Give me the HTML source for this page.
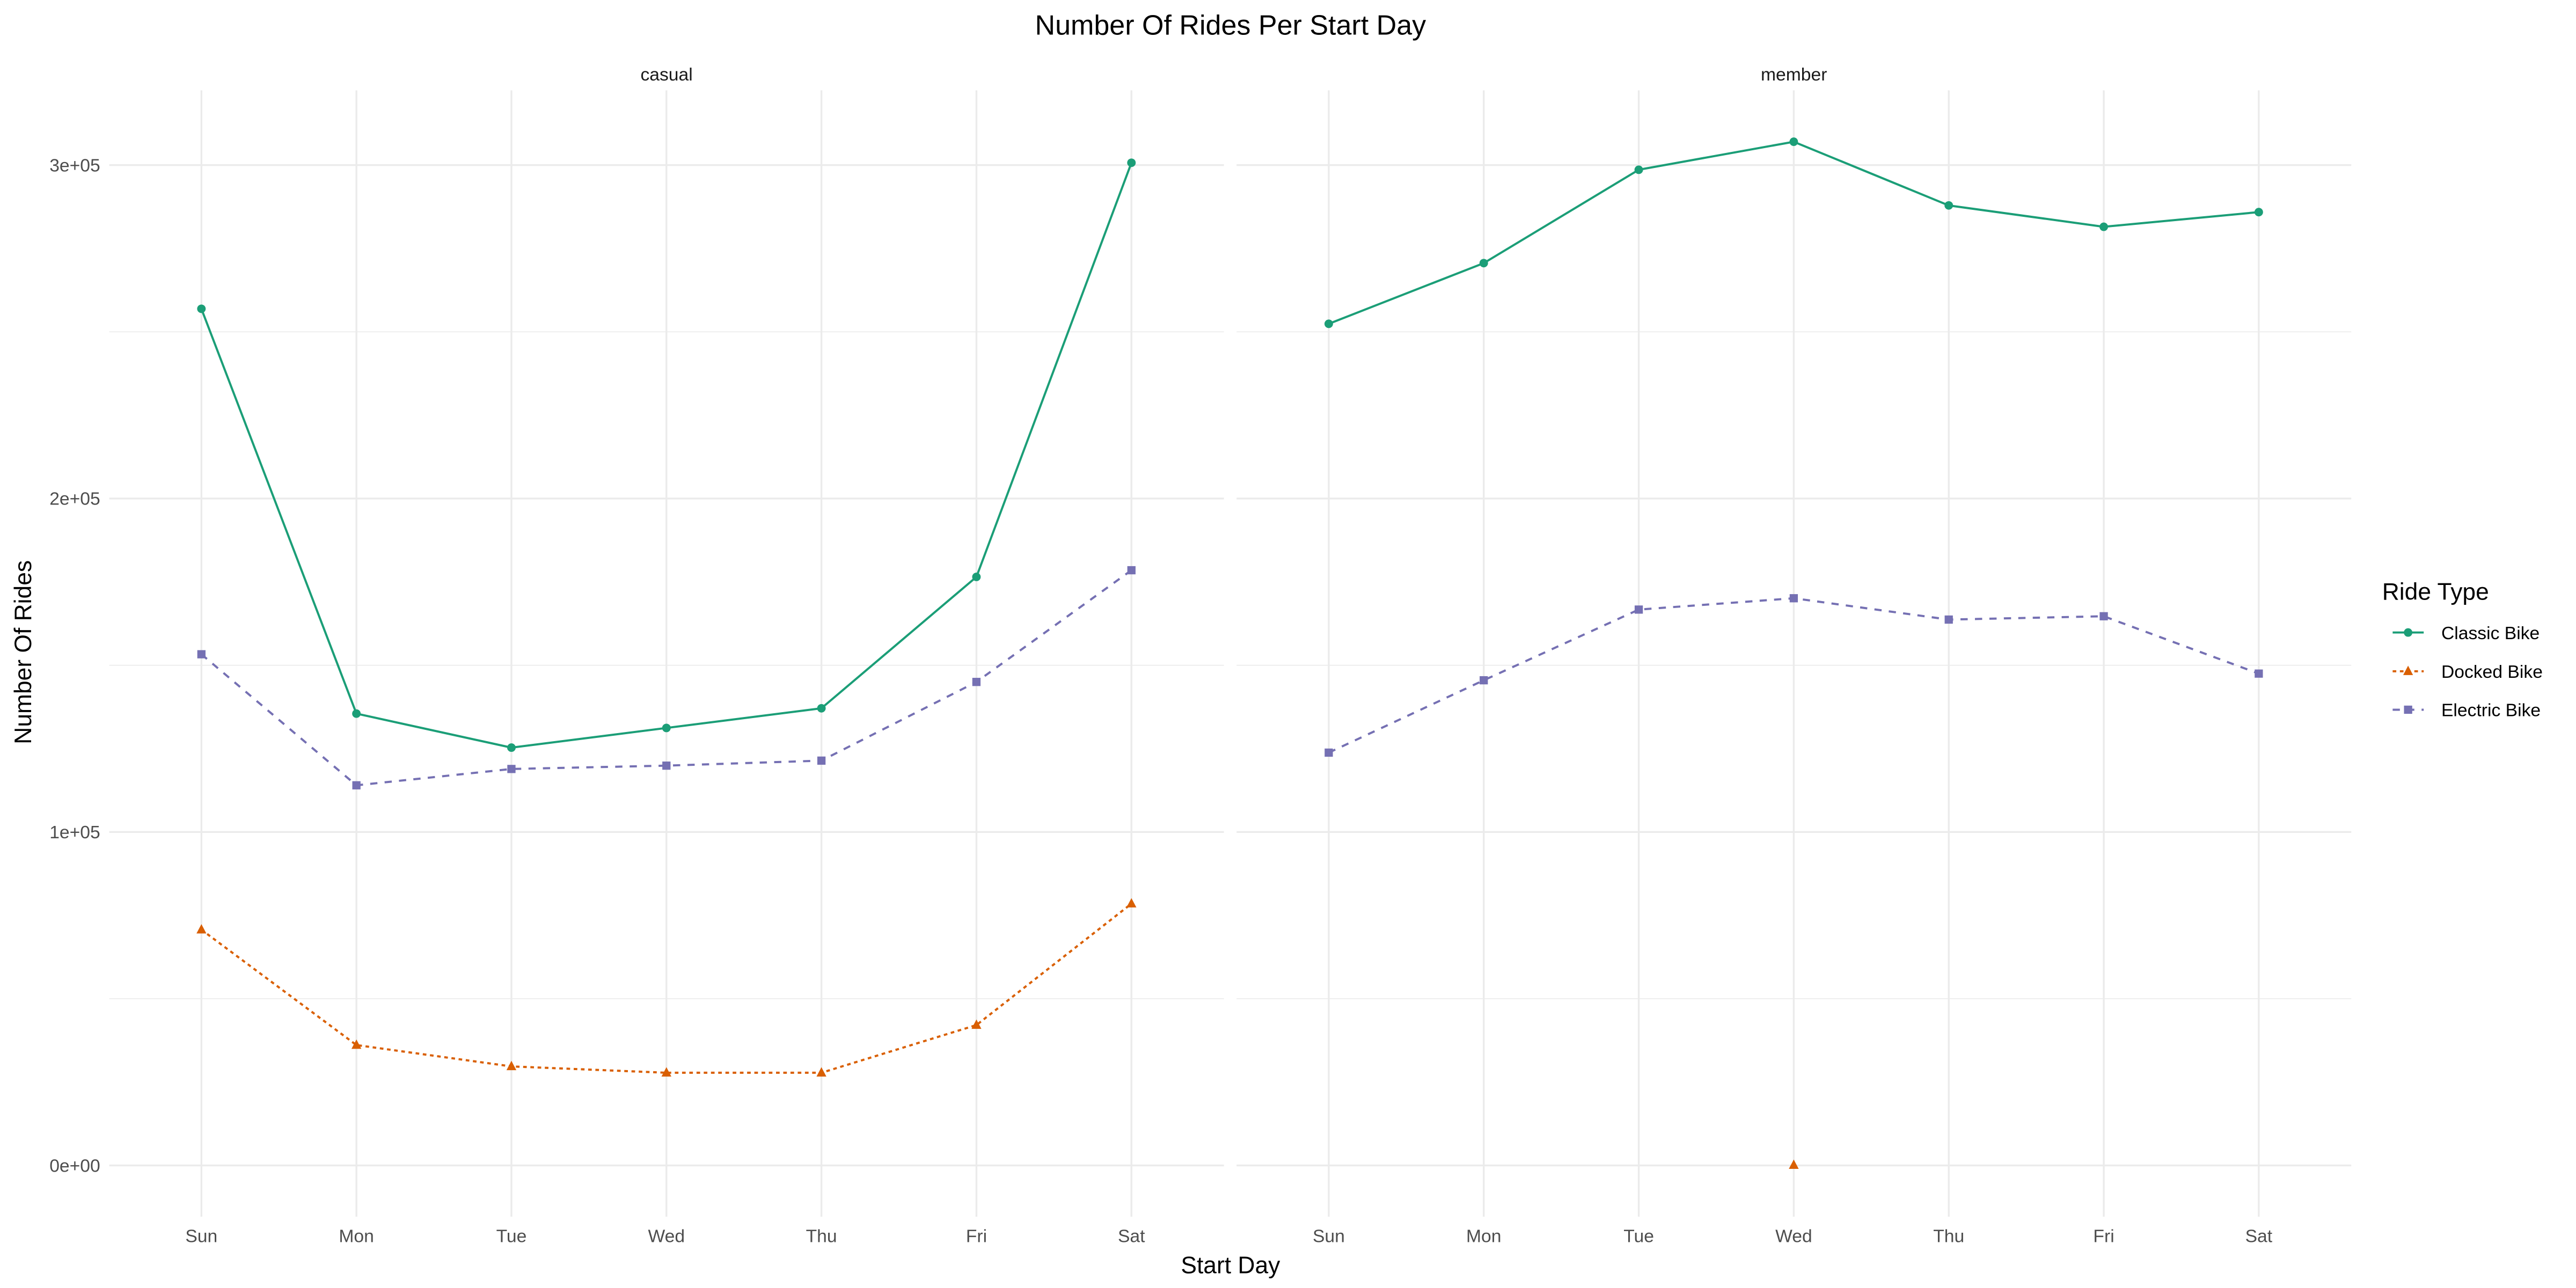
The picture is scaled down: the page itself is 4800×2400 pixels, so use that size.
<!DOCTYPE html>
<html><head><meta charset="utf-8"><style>
html,body{margin:0;padding:0;background:#fff;}
svg{display:block;font-family:"Liberation Sans",Arial,sans-serif;}
</style></head><body>
<svg id="chart" width="4800" height="2400" viewBox="0 0 1568 784" xmlns="http://www.w3.org/2000/svg">
<rect width="1568" height="784" fill="#fff"/>
<text x="749" y="21" font-size="17" text-anchor="middle" fill="#000">Number Of Rides Per Start Day</text>
<text x="749" y="775" font-size="14.5" text-anchor="middle" fill="#000">Start Day</text>
<text transform="translate(19,397) rotate(-90)" font-size="14.5" text-anchor="middle" fill="#000">Number Of Rides</text>
<g id="panels"></g>
<g id="legend">
<text x="1450" y="365" font-size="14.5" fill="#000">Ride Type</text>
</g>
</svg>
<script>
const days = ["Sun","Mon","Tue","Wed","Thu","Fri","Sat"];
const panelNames = ["casual","member"];
const yTicks = [0,100000,200000,300000];
const yTickLabels = ["0e+00","1e+05","2e+05","3e+05"];
const casualClassic = [256900,135500,125300,131200,137100,176500,300700];
const casualElectric = [153300,114000,118900,119900,121400,145000,178500];
const casualDocked = [70700,36100,29700,27800,27800,42100,78500];
const memberClassic = [252400,270600,298600,307000,287900,281500,285900];
const memberElectric = [123800,145500,166700,170100,163700,164700,147500];
const memberDocked = [null,null,null,100,null,null,null];

const series = [
 {name:"Classic Bike",color:"#1b9e77",dash:"",shape:"circle"},
 {name:"Docked Bike",color:"#d95f02",dash:"2.2,2.2",shape:"triangle"},
 {name:"Electric Bike",color:"#7570b3",dash:"4.4,4.4",shape:"square"}
];
const panelData = [[casualClassic,casualDocked,casualElectric],[memberClassic,memberDocked,memberElectric]];

const NS="http://www.w3.org/2000/svg";
const panelLeft=[66.5,752.7], panelW=678.5, panelTop=55, panelBottom=740.6;
function yScale(v){return 709.4 - v/100000*202.97;}
function xScale(p,i){return panelLeft[p]+56.1+i*94.35;}
function mk(tag,attrs,parent){const e=document.createElementNS(NS,tag);for(const k in attrs)e.setAttribute(k,attrs[k]);parent.appendChild(e);return e;}
function marker(shape,x,y,color,parent){
 let e;
 if(shape==="circle") e=mk("circle",{cx:x,cy:y,r:2.6,fill:color},parent);
 else if(shape==="square") e=mk("rect",{x:x-2.5,y:y-2.5,width:5,height:5,fill:color},parent);
 else e=mk("polygon",{points:`${x},${y-3.4} ${x-3},${y+2.3} ${x+3},${y+2.3}`,fill:color},parent);
 return e;
}
const root=document.getElementById("panels");
panelNames.forEach((pn,p)=>{
 const g=mk("g",{},root);
 
 
 const L=panelLeft[p], R=L+panelW;
 for(let k=0;k<yTicks.length-1;k++){
  const yy=yScale((yTicks[k]+yTicks[k+1])/2);
  const l=mk("line",{x1:L,x2:R,y1:yy,y2:yy,stroke:"#ebebeb","stroke-width":0.55},g);
  
  
 }
 yTicks.forEach((t,k)=>{
  const yy=yScale(t);
  const l=mk("line",{x1:L,x2:R,y1:yy,y2:yy,stroke:"#ebebeb","stroke-width":1.1},g);
  
  
  if(p===0){
   const tx=mk("text",{x:61,y:yy+3.8,"font-size":11,"text-anchor":"end",fill:"#4d4d4d"},g);
   tx.textContent=yTickLabels[k];
   
   
  }
 });
 days.forEach((d,i)=>{
  const xx=xScale(p,i);
  const l=mk("line",{x1:xx,x2:xx,y1:panelTop,y2:panelBottom,stroke:"#ebebeb","stroke-width":1.1},g);
  
  
  const tx=mk("text",{x:xx,y:756,"font-size":11,"text-anchor":"middle",fill:"#4d4d4d"},g);
  tx.textContent=d;
  
  
 });
 const st=mk("text",{x:L+panelW/2,y:49,"font-size":11,"text-anchor":"middle",fill:"#1a1a1a"},g);
 st.textContent=pn;
 
 
 series.forEach((s,si)=>{
  const vals=panelData[p][si];
  const pts=[];
  vals.forEach((v,i)=>{if(v!==null)pts.push([xScale(p,i),yScale(v)]);});
  if(pts.length>1){
   const pl=mk("polyline",{points:pts.map(q=>q.join(",")).join(" "),fill:"none",stroke:s.color,"stroke-width":1.3,"stroke-dasharray":s.dash},g);
   
   
  }
  pts.forEach(q=>{
   const m=marker(s.shape,q[0],q[1],s.color,g);
   
   
  });
 });
});
const leg=document.getElementById("legend");
const legY=[385,408.6,432];
series.forEach((s,i)=>{
 const g=mk("g",{},leg);
 
 
 const l=mk("line",{x1:1456.4,x2:1475.3,y1:legY[i],y2:legY[i],stroke:s.color,"stroke-width":1.3,"stroke-dasharray":s.dash},g);
 
 
 const m=marker(s.shape,1465.8,legY[i],s.color,g);
 
 
 const t=mk("text",{x:1486,y:legY[i]+4,"font-size":11,fill:"#000"},g);
 t.textContent=s.name;
 
 
});
</script>
</body></html>
